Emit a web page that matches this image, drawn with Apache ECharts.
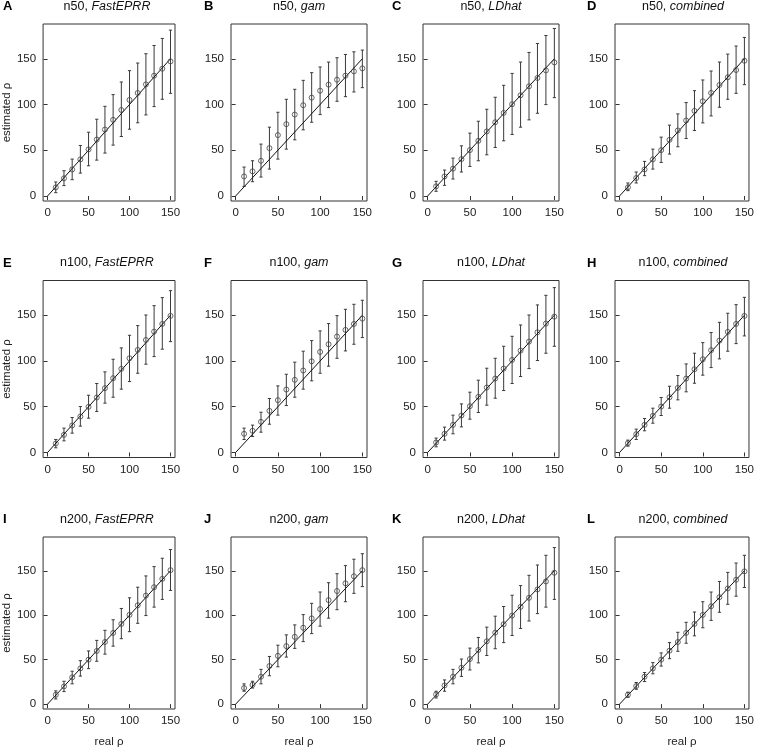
<!DOCTYPE html>
<html><head><meta charset="utf-8">
<script src="https://cdn.jsdelivr.net/npm/echarts@6/dist/echarts.min.js"></script>
<style>html,body{margin:0;padding:0;background:#fff}#c{width:757px;height:749px}</style>
</head><body><div id="c"></div>
<script>
const realRho = [10,20,30,40,50,60,70,80,90,100,110,120,130,140,150];
const sampleSizes = ['n50','n100','n200'];
const methods = ['FastEPRR','gam','LDhat','combined'];
const panelLetters = ['A','B','C','D','E','F','G','H','I','J','K','L'];
const tickValues = [0,50,100,150];

// n50
const n50_FastEPRR_mean = [9.4,19.3,29,40,50.9,61.7,72.6,83.2,94,105,112.6,122,131.5,139.1,147.1];
const n50_FastEPRR_upper = [15.3,27.6,40.3,55.2,69.7,83.9,98,110.8,124.6,137,145.3,155.5,164.5,172.2,181.3];
const n50_FastEPRR_lower = [3.6,11.3,17.8,25,33,39.2,46.9,55.6,65,73,80,88.6,97.7,105.7,112.2];
const n50_gam_mean = [21.4,26.9,38.5,52.3,66.5,78.5,89,99.2,107.5,115.1,121.7,127.1,131.5,136.2,139.5];
const n50_gam_upper = [31.6,38.5,56.7,75.2,91.5,105.7,116.6,126.4,134.8,141,146.4,151.1,154.7,157.6,159.5];
const n50_gam_lower = [10.5,15.6,20.7,29.4,40.3,51.2,61.4,72.3,80.6,89,96.6,103.5,108.6,113.7,118.4];
const n50_LDhat_mean = [10.5,21.4,29.8,40.3,50.1,60.3,70.5,80.6,90.8,100.3,110.1,119.9,129,137.3,146];
const n50_LDhat_upper = [16,28.3,41.4,54.8,68.7,81.7,94.8,107.9,121,134,146.4,156.9,166.7,175.4,183.1];
const n50_LDhat_lower = [5.1,11.6,18.5,26.2,32.3,38.5,45,53,60.3,67.2,75.2,83.2,90.4,99.9,107.5];
const n50_combined_mean = [9.4,19.6,29,40,50.1,61.4,71.6,82.5,93,103.5,112.6,121.3,129.7,137.7,147.8];
const n50_combined_upper = [14.2,26.2,37.8,51.2,64.3,77.4,89.7,102.1,115.1,126.8,136.6,146.4,155.1,163.9,173.3];
const n50_combined_lower = [5.8,14.2,22.2,29.4,36.7,45.8,53.8,62.8,71.6,79.9,87.5,97,105.7,112.2,121.7];
// n100
const n100_FastEPRR_mean = [9.8,19.3,29.5,39.3,49.9,60.1,70.3,81.2,91.4,103,112.1,123,132.1,140.5,149.3];
const n100_FastEPRR_upper = [14.2,26.6,38.2,50.2,62.6,75.4,88.1,101.9,114.3,128.1,138.7,150.3,160.5,169.3,176.9];
const n100_FastEPRR_lower = [5.1,12.7,21.1,28.8,37.5,44.8,53.9,60.4,69.2,77.5,86.6,96.5,104.8,112.9,121.2];
const n100_gam_mean = [20.4,23.7,33.5,45.5,57.2,68.8,79.4,89.6,99.7,109.9,118.3,126.7,134,140.5,146.3];
const n100_gam_upper = [26.6,29.9,44,59,72.8,85.5,98.7,110.7,122.3,132.9,140.9,149.6,156.5,162,166.4];
const n100_gam_lower = [14.2,17.5,22.2,30.9,40.8,51.3,60.4,69.2,78.3,86.6,94.3,103,111,118.3,125.6];
const n100_LDhat_mean = [10.9,20.4,30.2,40.4,50.6,60.8,71,80.8,91.7,101.2,111.4,121.2,131.4,140.9,148.5];
const n100_LDhat_upper = [15.7,27.7,40.8,53.1,65.9,79,92.1,103,116.1,127,139.4,150.3,161.3,171.8,180.2];
const n100_LDhat_lower = [6.2,13.5,20.4,28,36.4,43.7,51.7,59.3,67.7,75.4,83,91.7,100.5,108.5,116.1];
const n100_combined_mean = [10.2,20,30.2,40,50.2,60.4,70.6,80.8,91,101.9,111.8,122.3,131.8,140.5,149.3];
const n100_combined_upper = [13.5,25.5,37.1,48.4,60.1,72.4,84.1,96.8,108.5,120.1,131.1,142.3,152.2,161.6,169.6];
const n100_combined_lower = [6.9,14.2,23.7,32,40.4,48.4,57.5,66.3,75.7,84.5,92.8,102.3,110.7,119,127.4];
// n200
const n200_FastEPRR_mean = [10.5,19.9,30.1,40.2,50,59.8,69.9,80.1,90.2,100.4,111.2,122.1,131.5,140.9,150.7];
const n200_FastEPRR_upper = [14.9,25.7,37,48.9,59.8,71.7,83,94.9,107.6,119.6,131.5,144.2,154.7,164.1,173.9];
const n200_FastEPRR_lower = [5.8,14.1,22.8,31.5,39.9,48.2,56.2,65.2,73.6,81.5,90.9,99.6,109.1,117.8,127.9];
const n200_gam_mean = [18.1,21.7,30.8,42.8,54.3,65.2,75.7,85.9,96.4,106.9,117,127.2,135.9,143.8,150.7];
const n200_gam_upper = [22.8,25.7,39.1,53.6,66.3,77.9,89.1,100.7,113.4,126.1,136.6,146.7,155.8,163,169.2];
const n200_gam_lower = [14.5,18.1,22.8,31.9,42,52.9,62.7,70.3,79.3,87.7,96.7,106.2,115.2,124.6,132.2];
const n200_LDhat_mean = [10.9,21,30.8,40.9,50.7,60.9,70.7,80.4,89.9,99.6,109.4,119.6,129,138,147.8];
const n200_LDhat_upper = [14.5,27.2,39.1,50.7,63,75,86.6,98.9,109.8,122.5,133.3,144.9,156.5,167.4,176.1];
const n200_LDhat_lower = [6.9,14.5,22.8,31.2,38.4,46.4,54.7,62.3,69.2,77.2,85.1,93.5,101.8,109.1,117.8];
const n200_combined_mean = [10.5,20.3,30.8,40.2,50,60.1,69.9,80.1,90.2,100.4,110.1,120.3,130.1,139.9,149.3];
const n200_combined_upper = [13.4,24.3,35.5,46.7,57.6,69.2,80.8,92,103.6,115.2,126.1,138,148.2,158.7,167.4];
const n200_combined_lower = [7.6,16.7,25.4,34.1,42.8,51.1,59.4,68.5,76.8,85.9,94.2,103.3,112.3,121.4,131.2];

const panelData = {
  n50_FastEPRR:[n50_FastEPRR_mean,n50_FastEPRR_lower,n50_FastEPRR_upper],
  n50_gam:[n50_gam_mean,n50_gam_lower,n50_gam_upper],
  n50_LDhat:[n50_LDhat_mean,n50_LDhat_lower,n50_LDhat_upper],
  n50_combined:[n50_combined_mean,n50_combined_lower,n50_combined_upper],
  n100_FastEPRR:[n100_FastEPRR_mean,n100_FastEPRR_lower,n100_FastEPRR_upper],
  n100_gam:[n100_gam_mean,n100_gam_lower,n100_gam_upper],
  n100_LDhat:[n100_LDhat_mean,n100_LDhat_lower,n100_LDhat_upper],
  n100_combined:[n100_combined_mean,n100_combined_lower,n100_combined_upper],
  n200_FastEPRR:[n200_FastEPRR_mean,n200_FastEPRR_lower,n200_FastEPRR_upper],
  n200_gam:[n200_gam_mean,n200_gam_lower,n200_gam_upper],
  n200_LDhat:[n200_LDhat_mean,n200_LDhat_lower,n200_LDhat_upper],
  n200_combined:[n200_combined_mean,n200_combined_lower,n200_combined_upper]
};

const FONT = '"Liberation Sans", Arial, Helvetica, sans-serif';
const chart = echarts.init(document.getElementById('c'), null, {renderer:'canvas'});

const gridLeft0 = 39, colStep = 192, gridW = 136;
const gridTop0 = 24, rowStep = 256.5, gridH = 177;
const letterX = [3, 204, 392, 587];

const grids=[], xAxes=[], yAxes=[], series=[], titles=[];
let idx = 0;
sampleSizes.forEach((n, r) => {
  methods.forEach((m, c) => {
    const left = gridLeft0 + c*colStep;
    const top = gridTop0 + r*rowStep;
    grids.push({left:left, top:top, width:gridW, height:gridH, show:true,
      borderColor:'#333', borderWidth:1, backgroundColor:'transparent', containLabel:false});
    xAxes.push({type:'value', gridIndex:idx, min:-5.5, max:155.5,
      name: r===2 ? 'real ρ' : '', nameLocation:'middle', nameGap:27,
      nameTextStyle:{fontFamily:FONT, fontSize:11.5, color:'#222'},
      axisLine:{show:false}, splitLine:{show:false},
      axisTick:{show:true, inside:false, length:4, customValues:tickValues, lineStyle:{color:'#333'}},
      axisLabel:{show:true, margin:6, customValues:tickValues, fontFamily:FONT, fontSize:11.5, color:'#222'}});
    yAxes.push({type:'value', gridIndex:idx, min:-5.5, max:188,
      name: c===0 ? 'estimated ρ' : '', nameLocation:'middle', nameGap:29,
      nameTextStyle:{fontFamily:FONT, fontSize:11.5, color:'#222'},
      axisLine:{show:false}, splitLine:{show:false},
      axisTick:{show:true, inside:false, length:4, customValues:tickValues, lineStyle:{color:'#333'}},
      axisLabel:{show:true, margin:7, customValues:tickValues, fontFamily:FONT, fontSize:11.5, color:'#222'}});
    const d = panelData[n + '_' + m];
    const barData = realRho.map((x,i)=>[x, d[1][i], d[2][i]]);
    const ptData = realRho.map((x,i)=>[x, d[0][i]]);
    series.push({type:'custom', xAxisIndex:idx, yAxisIndex:idx, silent:true, z:2,
      data:barData, encode:{x:0, y:[1,2]},
      renderItem:function(params, api){
        const x = api.value(0), lo = api.value(1), hi = api.value(2);
        const p1 = api.coord([x, lo]), p2 = api.coord([x, hi]);
        const cw = 1.6, st = {stroke:'#3a3a3a', lineWidth:1};
        return {type:'group', children:[
          {type:'line', shape:{x1:p1[0], y1:p1[1], x2:p2[0], y2:p2[1]}, style:st},
          {type:'line', shape:{x1:p1[0]-cw, y1:p1[1], x2:p1[0]+cw, y2:p1[1]}, style:st},
          {type:'line', shape:{x1:p2[0]-cw, y1:p2[1], x2:p2[0]+cw, y2:p2[1]}, style:st}
        ]};
      }});
    series.push({type:'line', xAxisIndex:idx, yAxisIndex:idx, silent:true, z:3,
      data:[[0,0],[150,150]], showSymbol:false, symbol:'none',
      lineStyle:{color:'#111', width:1}});
    series.push({type:'scatter', xAxisIndex:idx, yAxisIndex:idx, silent:true, z:4,
      data:ptData, symbol:'circle', symbolSize:5,
      itemStyle:{color:'rgba(255,255,255,0)', borderColor:'#444', borderWidth:1}});
    const cy = top - 17;
    titles.push({text:'{a|' + n + ', }{b|' + m + '}', left:left + gridW/2, top:cy - 7,
      textAlign:'center', padding:0,
      textStyle:{fontWeight:'normal', rich:{a:{fontFamily:FONT, fontSize:12.5, fontWeight:'normal', color:'#111'},
                       b:{fontFamily:FONT, fontSize:12.5, fontStyle:'italic', fontWeight:'normal', color:'#111'}}}});
    titles.push({text:panelLetters[idx], left:letterX[c], top:cy - 7, padding:0,
      textStyle:{fontFamily:FONT, fontSize:13, fontWeight:'bold', color:'#000'}});
    idx++;
  });
});

chart.setOption({animation:false, backgroundColor:'#fff', title:titles,
  grid:grids, xAxis:xAxes, yAxis:yAxes, series:series});
</script></body></html>
